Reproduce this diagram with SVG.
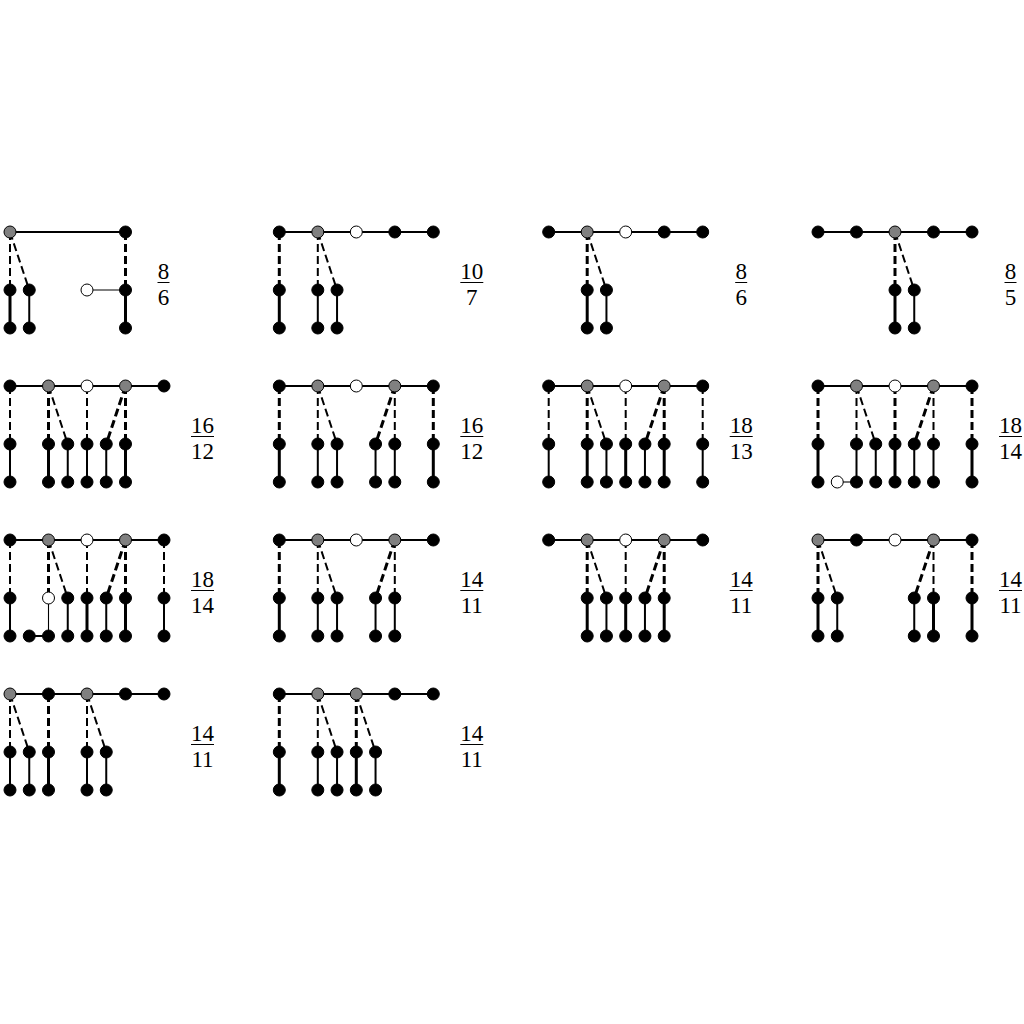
<svg xmlns="http://www.w3.org/2000/svg" width="1024" height="1024" viewBox="0 0 1024 1024">
<style>
.s3{stroke:#000;stroke-width:3;fill:none}
.s2{stroke:#000;stroke-width:2;fill:none}
.s1{stroke:#000;stroke-width:1.1;fill:none}
.d3{stroke:#000;stroke-width:3;stroke-dasharray:8,4;fill:none}
.d2{stroke:#000;stroke-width:2;stroke-dasharray:8,4;fill:none}
.b{fill:#000;stroke:#000;stroke-width:1}
.g{fill:#808080;stroke:#000;stroke-width:1}
.w{fill:#fff;stroke:#000;stroke-width:1}
.fr{font-family:"Liberation Serif","DejaVu Serif",serif;font-size:23px;text-anchor:middle;fill:#000}
.bar{stroke:#000;stroke-width:1}
</style>
<rect width="1024" height="1024" fill="#fff"/>

<!-- Panel r0c0 -->
<g id="p00" transform="translate(10,232)">
<g id="p00-edges">
<path class="s2" d="M0,0H115.5"/>
<path class="d2" d="M0,0V58M0,0L19.25,58"/>
<path class="d3" d="M115.5,0V58"/>
<path class="s1" d="M77,58H115.5"/>
<path class="s3" d="M0,58V96M115.5,58V96"/>
<path class="s2" d="M19.25,58V96"/>
</g>
<g id="p00-nodes">
<circle class="g" cx="0" cy="0" r="6"/><circle class="b" cx="115.5" cy="0" r="6"/>
<circle class="b" cx="0" cy="58" r="6"/><circle class="b" cx="19.25" cy="58" r="6"/><circle class="w" cx="77" cy="58" r="6"/><circle class="b" cx="115.5" cy="58" r="6"/>
<circle class="b" cx="0" cy="96" r="6"/><circle class="b" cx="19.25" cy="96" r="6"/><circle class="b" cx="115.5" cy="96" r="6"/>
</g>
<g id="p00-label"><text class="fr" x="153.5" y="47">8</text><path class="bar" d="M147.5,50.5H159.5"/><text class="fr" x="153.5" y="73">6</text></g>
</g>

<!-- Panel r0c1 -->
<g id="p01" transform="translate(279.3,232)">
<g id="p01-edges">
<path class="s2" d="M0,0H154"/>
<path class="d3" d="M0,0V58"/>
<path class="d2" d="M38.5,0V58M38.5,0L57.75,58"/>
<path class="s3" d="M0,58V96"/>
<path class="s2" d="M38.5,58V96M57.75,58V96"/>
</g>
<g id="p01-nodes">
<circle class="b" cx="0" cy="0" r="6"/><circle class="g" cx="38.5" cy="0" r="6"/><circle class="w" cx="77" cy="0" r="6"/><circle class="b" cx="115.5" cy="0" r="6"/><circle class="b" cx="154" cy="0" r="6"/>
<circle class="b" cx="0" cy="58" r="6"/><circle class="b" cx="38.5" cy="58" r="6"/><circle class="b" cx="57.75" cy="58" r="6"/>
<circle class="b" cx="0" cy="96" r="6"/><circle class="b" cx="38.5" cy="96" r="6"/><circle class="b" cx="57.75" cy="96" r="6"/>
</g>
<g id="p01-label"><text class="fr" x="192.5" y="47">10</text><path class="bar" d="M181,50.5H204"/><text class="fr" x="192.5" y="73">7</text></g>
</g>

<!-- Panel r0c2 -->
<g id="p02" transform="translate(548.7,232)">
<g id="p02-edges">
<path class="s2" d="M0,0H154"/>
<path class="d3" d="M38.5,0V58"/>
<path class="d2" d="M38.5,0L57.75,58"/>
<path class="s3" d="M38.5,58V96"/>
<path class="s2" d="M57.75,58V96"/>
</g>
<g id="p02-nodes">
<circle class="b" cx="0" cy="0" r="6"/><circle class="g" cx="38.5" cy="0" r="6"/><circle class="w" cx="77" cy="0" r="6"/><circle class="b" cx="115.5" cy="0" r="6"/><circle class="b" cx="154" cy="0" r="6"/>
<circle class="b" cx="38.5" cy="58" r="6"/><circle class="b" cx="57.75" cy="58" r="6"/>
<circle class="b" cx="38.5" cy="96" r="6"/><circle class="b" cx="57.75" cy="96" r="6"/>
</g>
<g id="p02-label"><text class="fr" x="192.5" y="47">8</text><path class="bar" d="M186.5,50.5H198.5"/><text class="fr" x="192.5" y="73">6</text></g>
</g>

<!-- Panel r0c3 -->
<g id="p03" transform="translate(818,232)">
<g id="p03-edges">
<path class="s2" d="M0,0H154"/>
<path class="d3" d="M77,0V58"/>
<path class="d2" d="M77,0L96.25,58"/>
<path class="s3" d="M77,58V96"/>
<path class="s2" d="M96.25,58V96"/>
</g>
<g id="p03-nodes">
<circle class="b" cx="0" cy="0" r="6"/><circle class="b" cx="38.5" cy="0" r="6"/><circle class="g" cx="77" cy="0" r="6"/><circle class="b" cx="115.5" cy="0" r="6"/><circle class="b" cx="154" cy="0" r="6"/>
<circle class="b" cx="77" cy="58" r="6"/><circle class="b" cx="96.25" cy="58" r="6"/>
<circle class="b" cx="77" cy="96" r="6"/><circle class="b" cx="96.25" cy="96" r="6"/>
</g>
<g id="p03-label"><text class="fr" x="192.5" y="47">8</text><path class="bar" d="M186.5,50.5H198.5"/><text class="fr" x="192.5" y="73">5</text></g>
</g>

<!-- Panel r1c0 -->
<g id="p10" transform="translate(10,386)">
<g id="p10-edges">
<path class="s2" d="M0,0H154"/>
<path class="d2" d="M0,0V58M38.5,0L57.75,58M77,0V58"/>
<path class="d3" d="M38.5,0V58M115.5,0L96.25,58M115.5,0V58"/>
<path class="s2" d="M0,58V96M57.75,58V96M77,58V96M96.25,58V96"/>
<path class="s3" d="M38.5,58V96M115.5,58V96"/>
</g>
<g id="p10-nodes">
<circle class="b" cx="0" cy="0" r="6"/><circle class="g" cx="38.5" cy="0" r="6"/><circle class="w" cx="77" cy="0" r="6"/><circle class="g" cx="115.5" cy="0" r="6"/><circle class="b" cx="154" cy="0" r="6"/>
<circle class="b" cx="0" cy="58" r="6"/><circle class="b" cx="38.5" cy="58" r="6"/><circle class="b" cx="57.75" cy="58" r="6"/><circle class="b" cx="77" cy="58" r="6"/><circle class="b" cx="96.25" cy="58" r="6"/><circle class="b" cx="115.5" cy="58" r="6"/>
<circle class="b" cx="0" cy="96" r="6"/><circle class="b" cx="38.5" cy="96" r="6"/><circle class="b" cx="57.75" cy="96" r="6"/><circle class="b" cx="77" cy="96" r="6"/><circle class="b" cx="96.25" cy="96" r="6"/><circle class="b" cx="115.5" cy="96" r="6"/>
</g>
<g id="p10-label"><text class="fr" x="192.5" y="47">16</text><path class="bar" d="M181,50.5H204"/><text class="fr" x="192.5" y="73">12</text></g>
</g>

<!-- Panel r1c1 -->
<g id="p11" transform="translate(279.3,386)">
<g id="p11-edges">
<path class="s2" d="M0,0H154"/>
<path class="d3" d="M0,0V58M115.5,0L96.25,58M154,0V58"/>
<path class="d2" d="M38.5,0V58M38.5,0L57.75,58M115.5,0V58"/>
<path class="s3" d="M0,58V96M154,58V96"/>
<path class="s2" d="M38.5,58V96M57.75,58V96M96.25,58V96M115.5,58V96"/>
</g>
<g id="p11-nodes">
<circle class="b" cx="0" cy="0" r="6"/><circle class="g" cx="38.5" cy="0" r="6"/><circle class="w" cx="77" cy="0" r="6"/><circle class="g" cx="115.5" cy="0" r="6"/><circle class="b" cx="154" cy="0" r="6"/>
<circle class="b" cx="0" cy="58" r="6"/><circle class="b" cx="38.5" cy="58" r="6"/><circle class="b" cx="57.75" cy="58" r="6"/><circle class="b" cx="96.25" cy="58" r="6"/><circle class="b" cx="115.5" cy="58" r="6"/><circle class="b" cx="154" cy="58" r="6"/>
<circle class="b" cx="0" cy="96" r="6"/><circle class="b" cx="38.5" cy="96" r="6"/><circle class="b" cx="57.75" cy="96" r="6"/><circle class="b" cx="96.25" cy="96" r="6"/><circle class="b" cx="115.5" cy="96" r="6"/><circle class="b" cx="154" cy="96" r="6"/>
</g>
<g id="p11-label"><text class="fr" x="192.5" y="47">16</text><path class="bar" d="M181,50.5H204"/><text class="fr" x="192.5" y="73">12</text></g>
</g>

<!-- Panel r1c2 -->
<g id="p12" transform="translate(548.7,386)">
<g id="p12-edges">
<path class="s2" d="M0,0H154"/>
<path class="d2" d="M0,0V58M38.5,0L57.75,58M77,0V58M154,0V58"/>
<path class="d3" d="M38.5,0V58M115.5,0L96.25,58M115.5,0V58"/>
<path class="s2" d="M0,58V96M57.75,58V96M96.25,58V96M154,58V96"/>
<path class="s3" d="M38.5,58V96M77,58V96M115.5,58V96"/>
</g>
<g id="p12-nodes">
<circle class="b" cx="0" cy="0" r="6"/><circle class="g" cx="38.5" cy="0" r="6"/><circle class="w" cx="77" cy="0" r="6"/><circle class="g" cx="115.5" cy="0" r="6"/><circle class="b" cx="154" cy="0" r="6"/>
<circle class="b" cx="0" cy="58" r="6"/><circle class="b" cx="38.5" cy="58" r="6"/><circle class="b" cx="57.75" cy="58" r="6"/><circle class="b" cx="77" cy="58" r="6"/><circle class="b" cx="96.25" cy="58" r="6"/><circle class="b" cx="115.5" cy="58" r="6"/><circle class="b" cx="154" cy="58" r="6"/>
<circle class="b" cx="0" cy="96" r="6"/><circle class="b" cx="38.5" cy="96" r="6"/><circle class="b" cx="57.75" cy="96" r="6"/><circle class="b" cx="77" cy="96" r="6"/><circle class="b" cx="96.25" cy="96" r="6"/><circle class="b" cx="115.5" cy="96" r="6"/><circle class="b" cx="154" cy="96" r="6"/>
</g>
<g id="p12-label"><text class="fr" x="192.5" y="47">18</text><path class="bar" d="M181,50.5H204"/><text class="fr" x="192.5" y="73">13</text></g>
</g>

<!-- Panel r1c3 -->
<g id="p13" transform="translate(818,386)">
<g id="p13-edges">
<path class="s2" d="M0,0H154"/>
<path class="d3" d="M0,0V58M77,0V58M115.5,0L96.25,58M154,0V58"/>
<path class="d2" d="M38.5,0V58M38.5,0L57.75,58M115.5,0V58"/>
<path class="s3" d="M0,58V96M77,58V96M154,58V96"/>
<path class="s2" d="M38.5,58V96M57.75,58V96M96.25,58V96M115.5,58V96"/>
<path class="s1" d="M19.25,96H38.5"/>
</g>
<g id="p13-nodes">
<circle class="b" cx="0" cy="0" r="6"/><circle class="g" cx="38.5" cy="0" r="6"/><circle class="w" cx="77" cy="0" r="6"/><circle class="g" cx="115.5" cy="0" r="6"/><circle class="b" cx="154" cy="0" r="6"/>
<circle class="b" cx="0" cy="58" r="6"/><circle class="b" cx="38.5" cy="58" r="6"/><circle class="b" cx="57.75" cy="58" r="6"/><circle class="b" cx="77" cy="58" r="6"/><circle class="b" cx="96.25" cy="58" r="6"/><circle class="b" cx="115.5" cy="58" r="6"/><circle class="b" cx="154" cy="58" r="6"/>
<circle class="b" cx="0" cy="96" r="6"/><circle class="w" cx="19.25" cy="96" r="6"/><circle class="b" cx="38.5" cy="96" r="6"/><circle class="b" cx="57.75" cy="96" r="6"/><circle class="b" cx="77" cy="96" r="6"/><circle class="b" cx="96.25" cy="96" r="6"/><circle class="b" cx="115.5" cy="96" r="6"/><circle class="b" cx="154" cy="96" r="6"/>
</g>
<g id="p13-label"><text class="fr" x="192.5" y="47">18</text><path class="bar" d="M181,50.5H204"/><text class="fr" x="192.5" y="73">14</text></g>
</g>

<!-- Panel r2c0 -->
<g id="p20" transform="translate(10,540)">
<g id="p20-edges">
<path class="s2" d="M0,0H154"/>
<path class="d2" d="M0,0V58M38.5,0L57.75,58M77,0V58M154,0V58"/>
<path class="d3" d="M38.5,0V58M115.5,0L96.25,58M115.5,0V58"/>
<path class="s2" d="M0,58V96M57.75,58V96M96.25,58V96M154,58V96M19.25,96H38.5"/>
<path class="s3" d="M77,58V96M115.5,58V96"/>
<path class="s1" d="M38.5,58V96"/>
</g>
<g id="p20-nodes">
<circle class="b" cx="0" cy="0" r="6"/><circle class="g" cx="38.5" cy="0" r="6"/><circle class="w" cx="77" cy="0" r="6"/><circle class="g" cx="115.5" cy="0" r="6"/><circle class="b" cx="154" cy="0" r="6"/>
<circle class="b" cx="0" cy="58" r="6"/><circle class="w" cx="38.5" cy="58" r="6"/><circle class="b" cx="57.75" cy="58" r="6"/><circle class="b" cx="77" cy="58" r="6"/><circle class="b" cx="96.25" cy="58" r="6"/><circle class="b" cx="115.5" cy="58" r="6"/><circle class="b" cx="154" cy="58" r="6"/>
<circle class="b" cx="0" cy="96" r="6"/><circle class="b" cx="19.25" cy="96" r="6"/><circle class="b" cx="38.5" cy="96" r="6"/><circle class="b" cx="57.75" cy="96" r="6"/><circle class="b" cx="77" cy="96" r="6"/><circle class="b" cx="96.25" cy="96" r="6"/><circle class="b" cx="115.5" cy="96" r="6"/><circle class="b" cx="154" cy="96" r="6"/>
</g>
<g id="p20-label"><text class="fr" x="192.5" y="47">18</text><path class="bar" d="M181,50.5H204"/><text class="fr" x="192.5" y="73">14</text></g>
</g>

<!-- Panel r2c1 -->
<g id="p21" transform="translate(279.3,540)">
<g id="p21-edges">
<path class="s2" d="M0,0H154"/>
<path class="d3" d="M0,0V58M115.5,0L96.25,58"/>
<path class="d2" d="M38.5,0V58M38.5,0L57.75,58M115.5,0V58"/>
<path class="s3" d="M0,58V96"/>
<path class="s2" d="M38.5,58V96M57.75,58V96M96.25,58V96M115.5,58V96"/>
</g>
<g id="p21-nodes">
<circle class="b" cx="0" cy="0" r="6"/><circle class="g" cx="38.5" cy="0" r="6"/><circle class="w" cx="77" cy="0" r="6"/><circle class="g" cx="115.5" cy="0" r="6"/><circle class="b" cx="154" cy="0" r="6"/>
<circle class="b" cx="0" cy="58" r="6"/><circle class="b" cx="38.5" cy="58" r="6"/><circle class="b" cx="57.75" cy="58" r="6"/><circle class="b" cx="96.25" cy="58" r="6"/><circle class="b" cx="115.5" cy="58" r="6"/>
<circle class="b" cx="0" cy="96" r="6"/><circle class="b" cx="38.5" cy="96" r="6"/><circle class="b" cx="57.75" cy="96" r="6"/><circle class="b" cx="96.25" cy="96" r="6"/><circle class="b" cx="115.5" cy="96" r="6"/>
</g>
<g id="p21-label"><text class="fr" x="192.5" y="47">14</text><path class="bar" d="M181,50.5H204"/><text class="fr" x="192.5" y="73">11</text></g>
</g>

<!-- Panel r2c2 -->
<g id="p22" transform="translate(548.7,540)">
<g id="p22-edges">
<path class="s2" d="M0,0H154"/>
<path class="d3" d="M38.5,0V58M115.5,0L96.25,58M115.5,0V58"/>
<path class="d2" d="M38.5,0L57.75,58M77,0V58"/>
<path class="s3" d="M38.5,58V96M77,58V96M115.5,58V96"/>
<path class="s2" d="M57.75,58V96M96.25,58V96"/>
</g>
<g id="p22-nodes">
<circle class="b" cx="0" cy="0" r="6"/><circle class="g" cx="38.5" cy="0" r="6"/><circle class="w" cx="77" cy="0" r="6"/><circle class="g" cx="115.5" cy="0" r="6"/><circle class="b" cx="154" cy="0" r="6"/>
<circle class="b" cx="38.5" cy="58" r="6"/><circle class="b" cx="57.75" cy="58" r="6"/><circle class="b" cx="77" cy="58" r="6"/><circle class="b" cx="96.25" cy="58" r="6"/><circle class="b" cx="115.5" cy="58" r="6"/>
<circle class="b" cx="38.5" cy="96" r="6"/><circle class="b" cx="57.75" cy="96" r="6"/><circle class="b" cx="77" cy="96" r="6"/><circle class="b" cx="96.25" cy="96" r="6"/><circle class="b" cx="115.5" cy="96" r="6"/>
</g>
<g id="p22-label"><text class="fr" x="192.5" y="47">14</text><path class="bar" d="M181,50.5H204"/><text class="fr" x="192.5" y="73">11</text></g>
</g>

<!-- Panel r2c3 -->
<g id="p23" transform="translate(818,540)">
<g id="p23-edges">
<path class="s2" d="M0,0H154"/>
<path class="d3" d="M0,0V58M115.5,0L96.25,58M154,0V58"/>
<path class="d2" d="M0,0L19.25,58M115.5,0V58"/>
<path class="s3" d="M0,58V96M115.5,58V96M154,58V96"/>
<path class="s2" d="M19.25,58V96M96.25,58V96"/>
</g>
<g id="p23-nodes">
<circle class="g" cx="0" cy="0" r="6"/><circle class="b" cx="38.5" cy="0" r="6"/><circle class="w" cx="77" cy="0" r="6"/><circle class="g" cx="115.5" cy="0" r="6"/><circle class="b" cx="154" cy="0" r="6"/>
<circle class="b" cx="0" cy="58" r="6"/><circle class="b" cx="19.25" cy="58" r="6"/><circle class="b" cx="96.25" cy="58" r="6"/><circle class="b" cx="115.5" cy="58" r="6"/><circle class="b" cx="154" cy="58" r="6"/>
<circle class="b" cx="0" cy="96" r="6"/><circle class="b" cx="19.25" cy="96" r="6"/><circle class="b" cx="96.25" cy="96" r="6"/><circle class="b" cx="115.5" cy="96" r="6"/><circle class="b" cx="154" cy="96" r="6"/>
</g>
<g id="p23-label"><text class="fr" x="192.5" y="47">14</text><path class="bar" d="M181,50.5H204"/><text class="fr" x="192.5" y="73">11</text></g>
</g>

<!-- Panel r3c0 -->
<g id="p30" transform="translate(10,694)">
<g id="p30-edges">
<path class="s2" d="M0,0H154"/>
<path class="d2" d="M0,0V58M0,0L19.25,58M77,0V58M77,0L96.25,58"/>
<path class="d3" d="M38.5,0V58"/>
<path class="s3" d="M38.5,58V96"/>
<path class="s2" d="M0,58V96M19.25,58V96M77,58V96M96.25,58V96"/>
</g>
<g id="p30-nodes">
<circle class="g" cx="0" cy="0" r="6"/><circle class="b" cx="38.5" cy="0" r="6"/><circle class="g" cx="77" cy="0" r="6"/><circle class="b" cx="115.5" cy="0" r="6"/><circle class="b" cx="154" cy="0" r="6"/>
<circle class="b" cx="0" cy="58" r="6"/><circle class="b" cx="19.25" cy="58" r="6"/><circle class="b" cx="38.5" cy="58" r="6"/><circle class="b" cx="77" cy="58" r="6"/><circle class="b" cx="96.25" cy="58" r="6"/>
<circle class="b" cx="0" cy="96" r="6"/><circle class="b" cx="19.25" cy="96" r="6"/><circle class="b" cx="38.5" cy="96" r="6"/><circle class="b" cx="77" cy="96" r="6"/><circle class="b" cx="96.25" cy="96" r="6"/>
</g>
<g id="p30-label"><text class="fr" x="192.5" y="47">14</text><path class="bar" d="M181,50.5H204"/><text class="fr" x="192.5" y="73">11</text></g>
</g>

<!-- Panel r3c1 -->
<g id="p31" transform="translate(279.3,694)">
<g id="p31-edges">
<path class="s2" d="M0,0H154"/>
<path class="d3" d="M0,0V58M77,0V58"/>
<path class="d2" d="M38.5,0V58M38.5,0L57.75,58M77,0L96.25,58"/>
<path class="s3" d="M0,58V96M77,58V96"/>
<path class="s2" d="M38.5,58V96M57.75,58V96M96.25,58V96"/>
</g>
<g id="p31-nodes">
<circle class="b" cx="0" cy="0" r="6"/><circle class="g" cx="38.5" cy="0" r="6"/><circle class="g" cx="77" cy="0" r="6"/><circle class="b" cx="115.5" cy="0" r="6"/><circle class="b" cx="154" cy="0" r="6"/>
<circle class="b" cx="0" cy="58" r="6"/><circle class="b" cx="38.5" cy="58" r="6"/><circle class="b" cx="57.75" cy="58" r="6"/><circle class="b" cx="77" cy="58" r="6"/><circle class="b" cx="96.25" cy="58" r="6"/>
<circle class="b" cx="0" cy="96" r="6"/><circle class="b" cx="38.5" cy="96" r="6"/><circle class="b" cx="57.75" cy="96" r="6"/><circle class="b" cx="77" cy="96" r="6"/><circle class="b" cx="96.25" cy="96" r="6"/>
</g>
<g id="p31-label"><text class="fr" x="192.5" y="47">14</text><path class="bar" d="M181,50.5H204"/><text class="fr" x="192.5" y="73">11</text></g>
</g>
</svg>
